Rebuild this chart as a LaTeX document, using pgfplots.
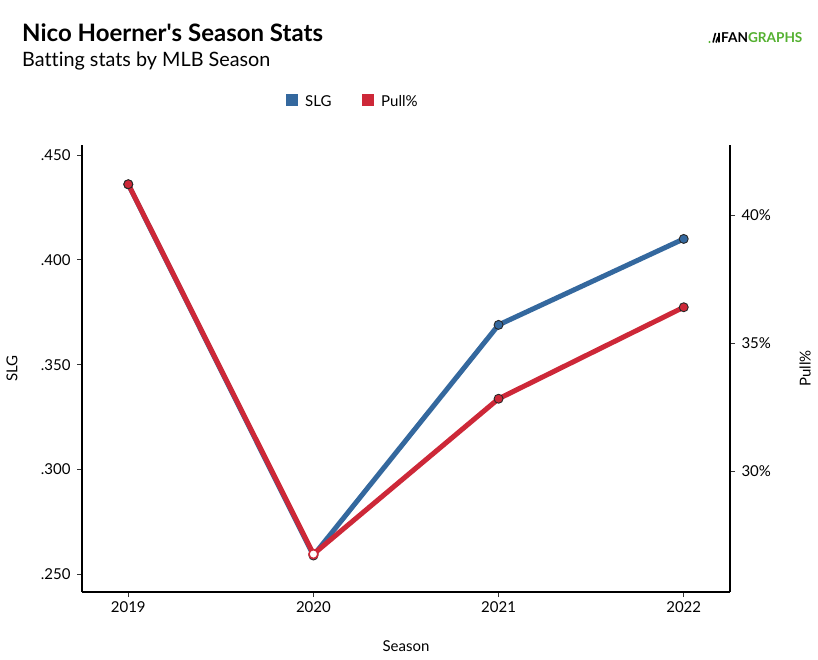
\documentclass[border=0pt]{standalone}
\usepackage{pgfplots}
\pgfplotsset{compat=1.18}
\usepackage{fontspec}
\setmainfont{Lato}[Ligatures={NoCommon}]
\definecolor{slgblue}{RGB}{52,104,158}
\definecolor{pullred}{RGB}{205,40,56}
\definecolor{fggreen}{RGB}{84,176,48}
\definecolor{mkedge}{RGB}{40,40,40}

\pgfplotstableread{
year slg
2019 0.436
2020 0.259
2021 0.369
2022 0.410
}\slgtable
\pgfplotstableread{
year pull
2019 41.2
2020 26.77
2021 32.83
2022 36.40
}\pulltable

\begin{document}
\begin{tikzpicture}[x=1pt,y=1pt]
\path[use as bounding box] (0,0) rectangle (818,-660);
% titles
\node[anchor=base west,inner sep=0pt,font=\bfseries\fontsize{24}{27}\selectfont] at (22,-42) {Nico Hoerner\textquotesingle s Season Stats};
\node[anchor=base west,inner sep=0pt,font=\fontsize{19.8}{22}\selectfont] at (22,-67) {Batting stats by MLB Season};
% logo
\fill[fggreen] (709.5,-42) circle (1.2);
\draw[black,line width=1.6] (713,-42.5) -- (715.5,-33) (716,-42.5) -- (718,-37) (719,-42.5) -- (719,-33);
\node[anchor=base west,inner sep=0pt,font=\bfseries\fontsize{13.6}{15}\selectfont] at (721,-42.5) {FAN\textcolor{fggreen}{GRAPHS}};
% legend
\fill[slgblue] (286,-94) rectangle (298,-106);
\node[anchor=west,inner sep=0pt,font=\fontsize{15}{17}\selectfont] at (305,-101) {SLG};
\fill[pullred] (362,-94) rectangle (374,-106);
\node[anchor=west,inner sep=0pt,font=\fontsize{15}{17}\selectfont] at (381,-101) {Pull\%};

\begin{axis}[
  at={(82pt,-592pt)}, anchor=south west, scale only axis,
  width=648pt, height=447pt,
  xmin=2018.75, xmax=2022.25,
  ymin=0.2416, ymax=0.4548,
  axis x line*=bottom, axis y line*=left,
  axis line style={line width=2.2pt, black},
  xtick={2019,2020,2021,2022},
  xticklabels={2019,2020,2021,2022},
  ytick={0.25,0.30,0.35,0.40,0.45},
  yticklabels={.250,.300,.350,.400,.450},
  tick align=outside, major tick length=5pt,
  tick style={line width=0.8pt, black!80},
  ticklabel style={font=\fontsize{15}{17}\selectfont},
  xticklabel style={yshift=-1pt},
  yticklabel style={xshift=-3pt},
  xlabel={Season}, ylabel={SLG},
  label style={font=\fontsize{15}{17}\selectfont},
  xlabel style={at={(axis description cs:0.5,-0.121)}, anchor=center},
  ylabel style={at={(axis description cs:-0.108,0.5)}, anchor=center},
  clip=false,
]
\addplot[slgblue, line width=5pt, line join=round] table[x=year,y=slg] {\slgtable};
\addplot[only marks, mark=*, mark size=4.5pt, mark options={fill=slgblue, draw=mkedge, line width=0.9pt}]
  table[x=year,y=slg] {\slgtable};
\end{axis}

\begin{axis}[
  at={(82pt,-592pt)}, anchor=south west, scale only axis,
  width=648pt, height=447pt,
  xmin=2018.75, xmax=2022.25,
  ymin=25.29, ymax=42.73,
  axis x line=none, axis y line*=right,
  axis line style={line width=2.2pt, black},
  ytick={30,35,40},
  yticklabels={30\%,35\%,40\%},
  tick align=outside, major tick length=5pt,
  tick style={line width=0.8pt, black!80},
  ticklabel style={font=\fontsize{15}{17}\selectfont},
  yticklabel style={xshift=3pt},
  ylabel={Pull\%},
  label style={font=\fontsize{15}{17}\selectfont},
  ylabel style={at={(axis description cs:1.116,0.5)}, anchor=center, rotate=0},
  clip=false,
]
\addplot[pullred, line width=5pt, line join=round] table[x=year,y=pull] {\pulltable};
\addplot[only marks, mark=*, mark size=4.5pt, mark options={fill=pullred, draw=mkedge, line width=0.9pt}]
  table[x=year,y=pull] {
year pull
2019 41.2
2021 32.83
2022 36.40
};
\addplot[only marks, mark=*, mark size=4.5pt, mark options={fill=white, draw=pullred, line width=1.6pt}]
  table[x=year,y=pull] {
year pull
2020 26.77
};
\end{axis}
\end{tikzpicture}
\end{document}
